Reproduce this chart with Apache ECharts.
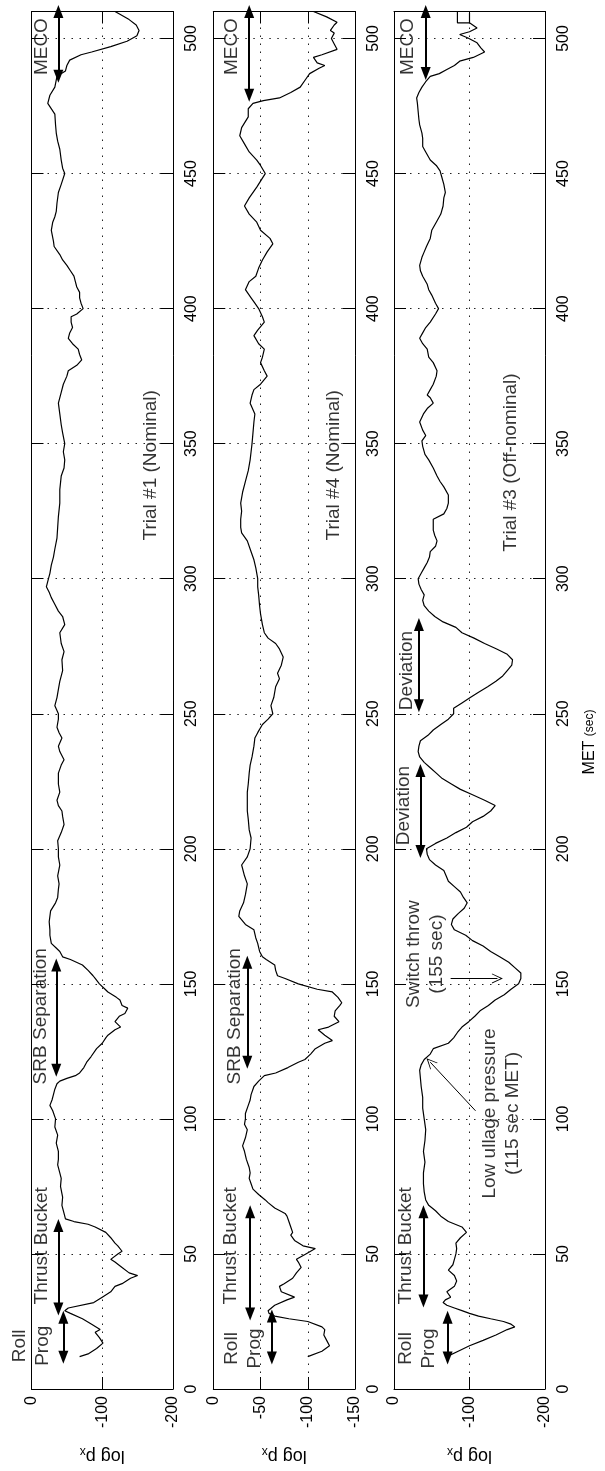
<!DOCTYPE html>
<html><head><meta charset="utf-8">
<script src="https://cdn.jsdelivr.net/npm/echarts@6/dist/echarts.min.js"></script>
<style>html,body{margin:0;padding:0;background:#fff}#c{width:605px;height:1471px}</style>
</head><body><div id="c"></div>
<script>
// ---- DATA: [MET (sec), log p_x] ----
const trial1 = [[12,-68],[13,-80],[15,-92],[17,-101],[19,-96],[21,-90],[22,-97],[24,-85],[26,-72],[28,-55],[29,-47],[30,-52],[32,-88],[34,-100],[36,-112],[38,-118],[39,-128],[41,-140],[42,-150],[43,-138],[45,-128],[47,-118],[48,-112],[50,-122],[51,-128],[53,-122],[54,-118],[56,-112],[58,-105],[60,-90],[61,-80],[62,-60],[63,-48],[65,-46],[68,-43],[71,-44],[75,-41],[78,-42],[80,-40],[83,-37],[85,-38],[88,-38],[91,-35],[94,-37],[97,-33],[100,-34],[103,-30],[105,-26],[107,-29],[109,-31],[111,-33],[113,-36],[114,-40],[115,-50],[116,-62],[117,-68],[119,-74],[121,-78],[123,-84],[126,-92],[128,-100],[130,-105],[131,-108],[133,-118],[134,-126],[136,-118],[138,-124],[139,-132],[141,-136],[142,-128],[144,-125],[145,-120],[147,-108],[148,-104],[150,-96],[152,-90],[153,-87],[155,-80],[157,-72],[159,-55],[160,-44],[162,-40],[163,-36],[165,-28],[168,-26],[170,-26],[173,-25],[177,-27],[180,-34],[182,-37],[185,-38],[187,-39],[190,-37],[194,-40],[197,-38],[200,-38],[203,-37],[206,-42],[209,-46],[212,-44],[214,-43],[216,-38],[218,-36],[221,-40],[224,-38],[228,-38],[231,-42],[233,-46],[236,-40],[238,-38],[241,-43],[243,-39],[245,-36],[248,-38],[250,-38],[253,-33],[256,-36],[259,-38],[262,-40],[266,-44],[270,-43],[273,-46],[276,-42],[280,-40],[283,-47],[286,-44],[288,-38],[291,-32],[293,-28],[295,-25],[297,-21],[300,-24],[302,-26],[305,-28],[308,-31],[311,-33],[315,-36],[319,-37],[323,-38],[328,-40],[333,-40],[338,-42],[341,-46],[344,-47],[347,-45],[350,-47],[354,-44],[357,-42],[361,-40],[365,-38],[369,-42],[372,-45],[375,-50],[377,-52],[379,-64],[381,-71],[383,-68],[385,-66],[387,-58],[389,-52],[391,-54],[393,-58],[395,-56],[397,-56],[398,-64],[400,-73],[402,-70],[404,-68],[406,-68],[408,-64],[410,-62],[412,-60],[414,-55],[416,-50],[418,-44],[420,-40],[423,-32],[425,-31],[429,-28],[432,-30],[434,-33],[436,-35],[439,-36],[443,-38],[446,-42],[450,-47],[452,-44],[455,-42],[459,-40],[462,-37],[465,-35],[468,-34],[472,-33],[476,-23],[479,-26],[482,-33],[486,-36],[488,-48],[490,-50],[492,-54],[494,-70],[495,-85],[497,-112],[499,-135],[501,-149],[503,-152],[505,-148],[507,-138],[509,-125],[510,-118]];

const trial4 = [[12,-100],[14,-115],[16,-123],[18,-120],[20,-117],[22,-118],[23,-115],[25,-100],[26,-80],[27,-65],[28,-59],[29,-58],[31,-65],[33,-78],[34,-86],[36,-72],[38,-70],[39,-75],[41,-84],[43,-88],[45,-93],[47,-90],[48,-88],[50,-98],[52,-108],[53,-95],[55,-86],[57,-82],[58,-84],[60,-82],[62,-80],[64,-78],[65,-76],[67,-65],[69,-58],[70,-55],[72,-48],[74,-42],[76,-40],[78,-38],[80,-39],[82,-38],[85,-35],[88,-33],[90,-31],[93,-34],[96,-36],[98,-33],[100,-34],[102,-34],[105,-37],[107,-39],[109,-40],[111,-42],[112,-43],[114,-48],[116,-54],[117,-66],[119,-79],[121,-90],[122,-97],[124,-103],[126,-108],[128,-118],[129,-126],[131,-118],[133,-111],[134,-122],[136,-133],[138,-128],[140,-129],[142,-134],[143,-136],[145,-132],[147,-126],[148,-110],[150,-90],[152,-76],[153,-68],[155,-66],[157,-65],[159,-56],[160,-52],[162,-49],[165,-47],[167,-45],[170,-43],[172,-34],[175,-27],[177,-28],[180,-32],[183,-34],[187,-36],[190,-33],[194,-30],[197,-36],[200,-39],[204,-40],[207,-38],[211,-37],[214,-36],[218,-36],[221,-36],[224,-37],[228,-38],[231,-39],[234,-41],[238,-43],[241,-44],[243,-47],[246,-52],[248,-58],[250,-63],[253,-61],[256,-64],[260,-66],[263,-70],[265,-68],[268,-72],[271,-74],[274,-70],[276,-66],[278,-58],[280,-54],[283,-52],[287,-50],[290,-49],[294,-48],[297,-47],[300,-47],[304,-45],[307,-43],[310,-40],[314,-36],[317,-30],[319,-29],[322,-29],[325,-30],[328,-29],[332,-31],[336,-34],[340,-37],[344,-39],[347,-40],[350,-41],[354,-42],[358,-43],[361,-44],[365,-39],[368,-41],[370,-43],[372,-50],[375,-57],[377,-54],[380,-50],[382,-52],[385,-54],[387,-48],[390,-43],[392,-47],[395,-54],[397,-52],[400,-48],[402,-44],[404,-40],[407,-34],[410,-38],[412,-45],[415,-48],[418,-52],[421,-57],[424,-63],[426,-60],[429,-50],[432,-46],[435,-38],[438,-33],[441,-38],[445,-46],[450,-55],[453,-50],[455,-46],[458,-38],[461,-33],[464,-28],[467,-30],[471,-37],[474,-37],[476,-42],[477,-53],[478,-70],[480,-82],[482,-92],[485,-98],[487,-102],[489,-112],[490,-118],[491,-110],[493,-106],[494,-115],[496,-131],[498,-128],[500,-125],[502,-128],[503,-124],[505,-128],[506,-131],[508,-120],[510,-106]];

const trial3 = [[12,-70],[14,-85],[16,-100],[18,-118],[20,-135],[22,-150],[23,-160],[24,-155],[25,-145],[26,-128],[27,-112],[28,-100],[29,-90],[30,-80],[31,-70],[32,-65],[33,-68],[34,-75],[36,-70],[38,-80],[40,-83],[42,-80],[44,-72],[46,-78],[48,-80],[50,-82],[52,-83],[54,-82],[56,-88],[58,-96],[60,-90],[62,-72],[64,-62],[66,-55],[68,-46],[70,-42],[73,-40],[76,-39],[80,-39],[84,-41],[88,-39],[92,-41],[96,-42],[100,-40],[104,-38],[108,-38],[112,-36],[115,-35],[118,-34],[120,-36],[122,-40],[124,-48],[126,-52],[128,-72],[130,-79],[132,-84],[134,-90],[136,-99],[138,-107],[140,-114],[142,-125],[144,-134],[146,-146],[148,-155],[150,-165],[152,-168],[154,-168],[156,-160],[158,-152],[160,-140],[162,-128],[164,-118],[166,-104],[168,-95],[170,-80],[172,-76],[174,-78],[176,-85],[178,-93],[180,-97],[182,-92],[184,-88],[186,-80],[188,-72],[190,-69],[192,-66],[194,-55],[196,-47],[198,-44],[200,-43],[202,-55],[204,-70],[206,-82],[208,-96],[210,-104],[212,-118],[214,-128],[216,-134],[218,-120],[220,-104],[222,-88],[224,-76],[226,-64],[228,-56],[230,-48],[232,-40],[234,-34],[236,-32],[238,-33],[240,-35],[242,-45],[244,-52],[246,-62],[248,-72],[250,-79],[252,-79],[254,-90],[256,-101],[258,-112],[260,-124],[262,-135],[264,-144],[266,-150],[268,-156],[270,-157],[272,-150],[274,-136],[276,-120],[278,-106],[280,-90],[282,-82],[284,-65],[286,-54],[288,-46],[290,-40],[292,-38],[294,-40],[296,-36],[298,-33],[300,-32],[302,-36],[304,-40],[306,-44],[308,-47],[310,-48],[312,-55],[314,-57],[316,-54],[318,-52],[320,-52],[322,-52],[324,-66],[326,-70],[328,-72],[331,-72],[334,-66],[336,-61],[338,-57],[341,-52],[344,-46],[346,-41],[349,-38],[351,-37],[353,-42],[355,-38],[358,-34],[361,-39],[363,-44],[365,-52],[367,-48],[368,-44],[370,-48],[372,-52],[375,-56],[377,-57],[380,-52],[382,-46],[385,-44],[387,-38],[389,-34],[391,-38],[393,-42],[395,-48],[398,-55],[400,-59],[402,-55],[405,-50],[407,-46],[409,-44],[412,-38],[414,-35],[416,-34],[419,-37],[421,-40],[423,-43],[426,-48],[429,-50],[432,-56],[435,-62],[438,-65],[441,-66],[443,-68],[446,-66],[449,-63],[451,-61],[453,-56],[455,-48],[458,-42],[460,-38],[463,-38],[465,-37],[468,-34],[470,-33],[473,-32],[476,-31],[478,-30],[480,-33],[482,-37],[484,-42],[486,-48],[487,-60],[488.5,-70],[490,-80],[491.6,-87],[493,-105],[495,-120],[496.5,-115],[498.4,-110],[500.2,-98],[501.5,-87],[502.5,-100],[503.9,-110],[505.8,-100],[509.5,-100],[505.8,-100],[505.8,-84],[510,-84]];

// MET axis
const metMin = 0, metMax = 510, metStep = 50;
// log p_x axis per panel: [min, step]
const lpAxes = [[-200, 100], [-150, 50], [-200, 100]];

// double-headed event arrows: [log p_x, MET from, MET to]
const arrows1 = [[-38, 486, 510], [-35, 118, 157], [-38, 29.6, 60.5], [-45, 11.8, 26.6]];
const arrows4 = [[-38, 479, 510], [-36, 121, 158], [-39, 27.8, 65.6], [-62, 11.5, 27]];
const arrows3 = [[-42, 487, 510], [-33, 253, 283], [-35, 199, 229], [-39, 32.6, 65.6], [-71, 11.5, 26.6]];
// thin pointer arrows (panel 3): [[lp0, met0], [lp1, met1]]
const pointers3 = [[[-75, 152], [-137, 152]], [[-108, 103], [-48, 121]]];

// text annotations: [log p_x, MET, text]
const notes1 = [[-15, 497, 'MECO'], [-13, 138, 'SRB Separation'], [-14, 53, 'Thrust Bucket'], [1, 16, 'Roll\nProg'], [-168, 342, 'Trial #1 (Nominal)']];
const notes4 = [[-20, 497, 'MECO'], [-23, 138, 'SRB Separation'], [-19, 53, 'Thrust Bucket'], [-32, 15, 'Roll\nProg'], [-128, 342, 'Trial #4 (Nominal)']];
const notes3 = [[-18, 497, 'MECO'], [-17, 266, 'Deviation'], [-13, 216, 'Deviation'], [-41, 161, 'Switch throw\n(155 sec)'], [-142, 102, 'Low ullage pressure\n(115 sec MET)'], [-15, 53, 'Thrust Bucket'], [-31, 15, 'Roll\nProg'], [-155, 343, 'Trial #3 (Off-nominal)']];

// ---- LAYOUT / STYLE ----
const FONT = '"Liberation Sans", Arial, Helvetica, sans-serif';
const gridPos = [{left: 31.5, width: 141.5}, {left: 213.3, width: 141.7}, {left: 394, width: 151}];
const trials = [trial1, trial4, trial3];
const arrows = [arrows1, arrows4, arrows3];
const notes = [notes1, notes4, notes3];

const chart = echarts.init(document.getElementById('c'), null, {renderer: 'canvas'});
const grids = [], xAxes = [], yAxes = [], series = [];
const dotted = {show: true, lineStyle: {color: '#222', width: 1, type: [1.5, 6.5]}};
const line = {show: true, onZero: false, lineStyle: {color: '#000', width: 1}};
const tick = {show: true, inside: true, length: 12, lineStyle: {color: '#000', width: 1}};

for (let i = 0; i < 3; i++) {
  grids.push({left: gridPos[i].left, width: gridPos[i].width, top: 11.5, height: 1378.5, containLabel: false});
  const [mn, st] = lpAxes[i];
  const xBase = {gridIndex: i, type: 'value', min: mn, max: 0, interval: st, inverse: true, axisLine: line, axisTick: tick};
  xAxes.push(Object.assign({}, xBase, {
    position: 'bottom',
    axisLabel: {rotate: 90, margin: 7, fontSize: 16, color: '#000', fontFamily: FONT},
    splitLine: dotted,
    name: '{a|log p}{b|x}', nameLocation: 'middle', nameRotate: 180, nameGap: 56,
    nameTextStyle: {color: '#000', fontFamily: FONT, fontSize: 18, rich: {a: {fontSize: 18, fontFamily: FONT, color: '#000', lineHeight: 22}, b: {fontSize: 12, fontFamily: FONT, color: '#000', lineHeight: 22, verticalAlign: 'bottom', padding: [9, 0, 0, 0]}}}
  }));
  xAxes.push(Object.assign({}, xBase, {position: 'top', axisLabel: {show: false}, splitLine: {show: false}}));
  const yBase = {gridIndex: i, type: 'value', min: metMin, max: metMax, interval: metStep, axisLine: line, axisTick: tick};
  yAxes.push(Object.assign({}, yBase, {
    position: 'right',
    axisLabel: {rotate: 90, margin: 11, fontSize: 16, color: '#000', fontFamily: FONT, showMaxLabel: false},
    splitLine: dotted
  }));
  yAxes.push(Object.assign({}, yBase, {position: 'left', axisLabel: {show: false}, splitLine: {show: false}}));

  series.push({
    type: 'line', xAxisIndex: 2 * i, yAxisIndex: 2 * i,
    data: trials[i].map(d => [d[1], d[0]]),
    showSymbol: false, symbol: 'none', silent: true, animation: false,
    lineStyle: {color: '#000', width: 1.2},
    markLine: {
      silent: true, animation: false, symbol: ['triangle', 'triangle'], symbolSize: [10, 13],
      label: {show: false}, lineStyle: {color: '#000', width: 2, type: 'solid'},
      data: arrows[i].map(a => [{coord: [a[0], a[1]]}, {coord: [a[0], a[2]]}])
    }
  });
  series.push({
    type: 'scatter', xAxisIndex: 2 * i, yAxisIndex: 2 * i, silent: true, animation: false, clip: false,
    symbolSize: 0, itemStyle: {color: 'rgba(0,0,0,0)'},
    data: notes[i].map(n => ({value: [n[0], n[1]], name: n[2]})),
    label: {show: true, position: 'inside', rotate: 90, formatter: p => p.name, fontSize: 19, lineHeight: 23,
      color: '#000', fontFamily: FONT, align: 'center', verticalAlign: 'middle'}
  });
}
series.push({
  type: 'line', xAxisIndex: 4, yAxisIndex: 4, data: [], silent: true, animation: false,
  markLine: {
    silent: true, animation: false,
    symbol: ['none', 'path://M0,0 L6,12 L5,12 L0,2.5 L-5,12 L-6,12 Z'], symbolSize: [10, 11],
    label: {show: false}, lineStyle: {color: '#000', width: 1, type: 'solid'},
    data: pointers3.map(p => [{coord: p[0]}, {coord: p[1]}])
  }
});

chart.setOption({
  animation: false, backgroundColor: '#fff', grid: grids, xAxis: xAxes, yAxis: yAxes, series: series,
  graphic: [{
    type: 'text', x: 590, y: 742, rotation: Math.PI / 2, silent: true,
    style: {text: '{a|MET }{b|(sec)}', align: 'center', verticalAlign: 'middle',
      rich: {a: {fontSize: 16, fontFamily: FONT, fill: '#000'}, b: {fontSize: 12, fontFamily: FONT, fill: '#000'}}}
  }]
});
</script></body></html>
